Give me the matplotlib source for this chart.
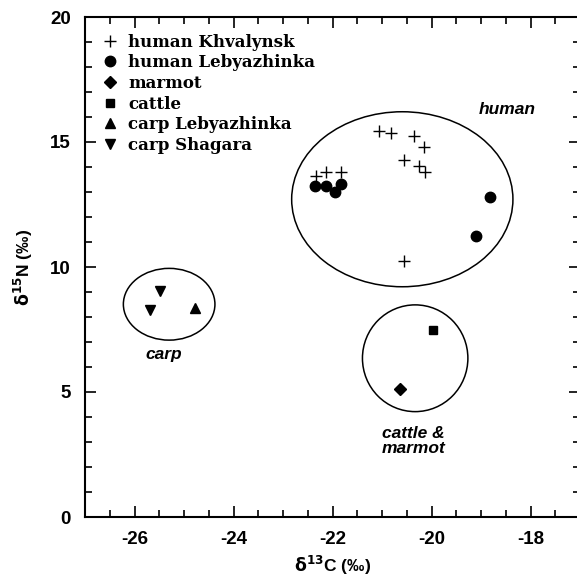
import matplotlib
matplotlib.use("Agg")
import matplotlib.pyplot as plt
from matplotlib.patches import Ellipse
from matplotlib.ticker import MultipleLocator

# --- data (delta13C, delta15N) ---
khv_c = [-21.06, -20.82, -20.35, -20.15, -20.56, -20.25, -20.13, -22.33, -22.13, -21.83, -20.56]
khv_n = [15.44, 15.36, 15.24, 14.80, 14.28, 14.04, 13.80, 13.64, 13.80, 13.80, 10.24]
leb_c = [-22.35, -22.14, -21.95, -21.83, -18.82, -19.11]
leb_n = [13.24, 13.24, 13.01, 13.31, 12.81, 11.25]
marmot_c = [-20.64]
marmot_n = [5.12]
cattle_c = [-19.96]
cattle_n = [7.50]
carp_leb_c = [-24.78]
carp_leb_n = [8.37]
carp_sha_c = [-25.48, -25.69]
carp_sha_n = [9.05, 8.28]

# group ellipses: centre x, centre y, width, height
groups = ["human", "carp", "cattle &\nmarmot"]
ell_cx = [-20.59, -25.30, -20.33]
ell_cy = [12.71, 8.51, 6.35]
ell_w = [4.47, 1.85, 2.13]
ell_h = [7.00, 2.87, 4.27]
lab_x = [-18.48, -25.40, -20.37]
lab_y = [16.30, 6.48, 3.04]

plt.rcParams["mathtext.fontset"] = "dejavusans"
plt.rcParams["axes.unicode_minus"] = False

fig = plt.figure(figsize=(5.77, 5.79), dpi=100)
ax = fig.add_axes([85 / 577, 62 / 579, 495 / 577, 500 / 579])

kw = dict(linestyle="none", color="black")
ax.plot(khv_c, khv_n, marker="+", markersize=8, markeredgewidth=1.0, label="human Khvalynsk", **kw)
ax.plot(leb_c, leb_n, marker="o", markersize=7.5, label="human Lebyazhinka", **kw)
ax.plot(marmot_c, marmot_n, marker="D", markersize=6, label="marmot", **kw)
ax.plot(cattle_c, cattle_n, marker="s", markersize=6, label="cattle", **kw)
ax.plot(carp_leb_c, carp_leb_n, marker="^", markersize=6.5, label="carp Lebyazhinka", **kw)
ax.plot(carp_sha_c, carp_sha_n, marker="v", markersize=6.5, label="carp Shagara", **kw)

for cx, cy, w, h in zip(ell_cx, ell_cy, ell_w, ell_h):
    ax.add_patch(Ellipse((cx, cy), w, h, fill=False, edgecolor="black", linewidth=1.1))

for g, x, y in zip(groups, lab_x, lab_y):
    ax.text(x, y, g, ha="center", va="center", fontsize=12.5, fontweight="bold",
            fontstyle="italic", family="Liberation Sans", linespacing=1.0)

ax.set_xlim(-27, -17)
ax.set_ylim(0, 20)
ax.xaxis.set_major_locator(MultipleLocator(2))
ax.xaxis.set_minor_locator(MultipleLocator(0.5))
ax.yaxis.set_major_locator(MultipleLocator(5))
ax.yaxis.set_minor_locator(MultipleLocator(1))
ax.tick_params(which="both", direction="in", top=True, right=True, width=1.2)
ax.tick_params(which="major", length=8, labelsize=13.5, pad=10)
ax.tick_params(which="minor", length=5)
for lbl in ax.get_xticklabels() + ax.get_yticklabels():
    lbl.set_fontweight("bold")
    lbl.set_family("Liberation Sans")
for s in ax.spines.values():
    s.set_linewidth(1.5)

ax.set_xlabel(r"$\mathbf{\delta^{13}}$C (‰)", fontsize=12.5, fontweight="bold",
              family="Liberation Sans", labelpad=4)
ax.set_ylabel(r"$\mathbf{\delta^{15}}$N (‰)", fontsize=12.5, fontweight="bold",
              family="Liberation Sans", labelpad=11)

ax.legend(loc="upper left", frameon=False, handlelength=1.0, handletextpad=0.6,
          labelspacing=0.22, borderaxespad=0.6,
          prop=dict(family="DejaVu Serif", weight="bold", size=12))

fig.savefig("out.png", dpi=100)
